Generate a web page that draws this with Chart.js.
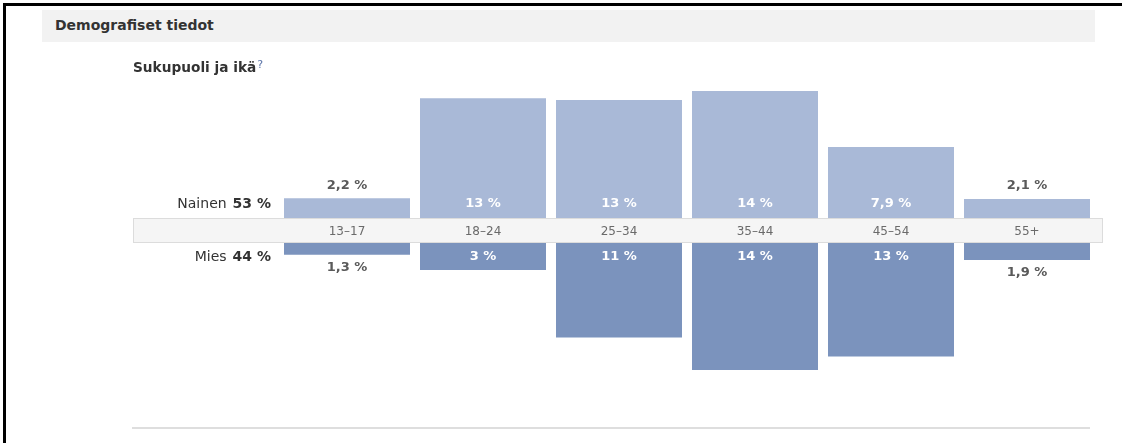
<!DOCTYPE html>
<html><head><meta charset="utf-8">
<script src="https://cdn.jsdelivr.net/npm/chart.js@4.4.1/dist/chart.umd.min.js"></script>
<style>
html,body{margin:0;padding:0;background:#fff;width:1122px;height:443px;overflow:hidden;font-family:"DejaVu Sans",sans-serif;}
#frame{position:absolute;left:3px;top:3px;width:1119px;height:440px;border-top:3px solid #000;border-left:3px solid #000;}
#hdr{position:absolute;left:42px;top:10px;width:1053px;height:32px;background:#f2f2f2;}
#hdr span{position:absolute;left:13px;top:0;line-height:31px;font-weight:bold;font-size:14px;color:#333;}
#title{position:absolute;left:133px;top:58px;font-size:13.7px;font-weight:bold;color:#333;line-height:18px;}
#title sup{color:#5b74a8;font-size:11px;font-weight:normal;vertical-align:4px;line-height:0;margin-left:1px;}
#rule{position:absolute;left:132px;top:427px;width:958px;height:2px;background:#dedede;}
#wrap{position:absolute;left:0;top:0;width:1122px;height:443px;}
</style></head>
<body>
<div id="wrap"><canvas id="c"></canvas></div>
<div id="frame"></div>
<div id="hdr"><span>Demografiset tiedot</span></div>
<div id="title">Sukupuoli ja ikä<sup>?</sup></div>
<div id="rule"></div>
<script>
const categories = ['13–17', '18–24', '25–34', '35–44', '45–54', '55+'];
const femaleValues = [2.2, 13.3, 13.1, 14.1, 7.9, 2.1];
const maleValues = [1.3, 3.0, 10.5, 14.1, 12.6, 1.9];
const femaleLabels = ['2,2 %', '13 %', '13 %', '14 %', '7,9 %', '2,1 %'];
const maleLabels = ['1,3 %', '3 %', '11 %', '14 %', '13 %', '1,9 %'];
const seriesNames = ['Nainen', 'Mies'];
const seriesTotals = ['53 %', '44 %'];

const FONT = '"DejaVu Sans", sans-serif';
const femaleColor = '#a9b9d7';
const maleColor = '#7b93bd';

const labelPlugin = {
  id: 'pyramidLabels',
  beforeDatasetsDraw(chart) {
    const {ctx, scales: {yF, yM}} = chart;
    const top = Math.round(yF.getPixelForValue(0));
    const bottom = Math.round(yM.getPixelForValue(0));
    ctx.save();
    ctx.fillStyle = '#f5f5f5';
    ctx.fillRect(133, top, 1103 - 133, bottom - top);
    ctx.strokeStyle = '#dcdcdc';
    ctx.lineWidth = 1;
    ctx.strokeRect(133.5, top + 0.5, 1103 - 133 - 1, bottom - top - 1);
    ctx.restore();
  },
  afterDatasetsDraw(chart) {
    const {ctx, scales: {x, yF, yM}} = chart;
    const top = yF.getPixelForValue(0);
    const bottom = yM.getPixelForValue(0);
    const mid = (top + bottom) / 2;
    ctx.save();
    ctx.textBaseline = 'middle';
    ctx.textAlign = 'center';
    ctx.font = '12px ' + FONT;
    ctx.fillStyle = '#6a6a6a';
    categories.forEach((c, i) => ctx.fillText(c, x.getPixelForValue(i), mid + 1));
    femaleValues.forEach((v, i) => {
      const cx = x.getPixelForValue(i);
      const yp = yF.getPixelForValue(v);
      ctx.font = 'bold 13px ' + FONT;
      if (top - yp > 24) { ctx.fillStyle = '#ffffff'; ctx.fillText(femaleLabels[i], cx, top - 14); }
      else { ctx.fillStyle = '#5a5a5a'; ctx.fillText(femaleLabels[i], cx, yp - 13); }
    });
    maleValues.forEach((v, i) => {
      const cx = x.getPixelForValue(i);
      const yp = yM.getPixelForValue(v);
      ctx.font = 'bold 13px ' + FONT;
      if (yp - bottom > 24) { ctx.fillStyle = '#ffffff'; ctx.fillText(maleLabels[i], cx, bottom + 14); }
      else { ctx.fillStyle = '#5a5a5a'; ctx.fillText(maleLabels[i], cx, yp + 13); }
    });
    const bar0 = chart.getDatasetMeta(0).data[0];
    const rightX = bar0.x - bar0.width / 2 - 13;
    const rows = [top - 14, bottom + 14];
    ctx.textAlign = 'right';
    seriesNames.forEach((n, k) => {
      ctx.font = 'bold 14px ' + FONT;
      ctx.fillStyle = '#333333';
      ctx.fillText(seriesTotals[k], rightX, rows[k]);
      const w = ctx.measureText(seriesTotals[k]).width;
      ctx.font = '14px ' + FONT;
      ctx.fillText(n, rightX - w - 6, rows[k]);
    });
    ctx.restore();
  }
};

new Chart(document.getElementById('c'), {
  type: 'bar',
  data: {
    labels: categories,
    datasets: [
      {label: seriesNames[0], data: femaleValues, yAxisID: 'yF', backgroundColor: femaleColor,
       borderWidth: 0, grouped: false, barPercentage: 126 / 136, categoryPercentage: 1},
      {label: seriesNames[1], data: maleValues, yAxisID: 'yM', backgroundColor: maleColor,
       borderWidth: 0, grouped: false, barPercentage: 126 / 136, categoryPercentage: 1}
    ]
  },
  options: {
    responsive: true,
    maintainAspectRatio: false,
    animation: false,
    devicePixelRatio: 1,
    layout: {padding: {left: 279, right: 27, top: 83, bottom: 65}},
    plugins: {legend: {display: false}, tooltip: {enabled: false}},
    scales: {
      x: {type: 'category', display: false, offset: true, grid: {display: false}},
      yF: {type: 'linear', position: 'right', stack: 'pyr', stackWeight: 135, min: 0, max: 15, display: false},
      yB: {type: 'linear', position: 'right', stack: 'pyr', stackWeight: 25, min: 0, max: 1, display: false},
      yM: {type: 'linear', position: 'right', stack: 'pyr', stackWeight: 135, min: 0, max: 15, reverse: true, display: false}
    }
  },
  plugins: [labelPlugin]
});
</script>
</body></html>
